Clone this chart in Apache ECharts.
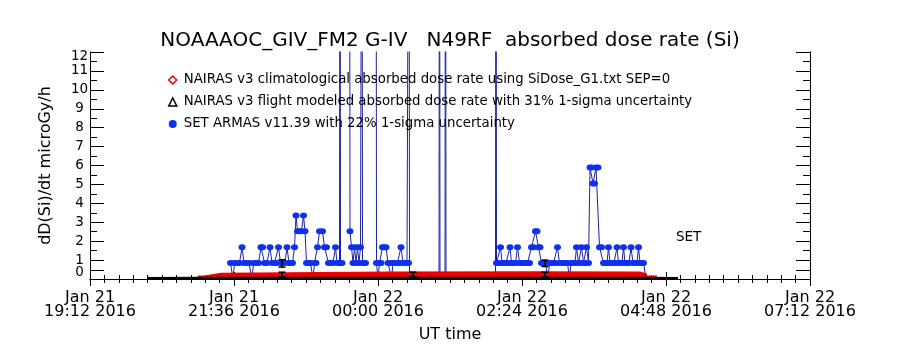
<!DOCTYPE html>
<html><head><meta charset="utf-8">
<script src="https://cdn.jsdelivr.net/npm/echarts@6/dist/echarts.min.js"></script>
<style>html,body{margin:0;padding:0;background:#fff}#c{width:900px;height:350px}</style>
</head><body><div id="c"></div>
<script>
const FONT = 'DejaVu Sans';

// x values: minutes after 2016-01-21 00:00 UT
const xTickLabels = ['Jan 21\n19:12 2016', 'Jan 21\n21:36 2016', 'Jan 22\n00:00 2016',
                     'Jan 22\n02:24 2016', 'Jan 22\n04:48 2016', 'Jan 22\n07:12 2016'];
const yMajorTicks = [0.45, 1, 2, 3, 4, 5, 6, 7, 8, 9, 10, 11, 12];
const yMinorTicks = [1.5, 2.5, 3.5, 4.5, 5.5, 6.5, 7.5, 8.5, 9.5, 10.5, 11.5];
const yLabelValues = [1, 2, 3, 4, 5, 6, 7, 8, 9, 10, 11, 11.74];
const yLabelTexts = ['1', '2', '3', '4', '5', '6', '7', '8', '9', '10', '11', '12'];
const yZeroLabelValues = [0.37];
const yZeroLabelTexts = ['0'];

const climName = 'NAIRAS v3 climatological absorbed dose rate using SiDose_G1.txt SEP=0';
const flightName = 'NAIRAS v3 flight modeled absorbed dose rate with 31% 1-sigma uncertainty';
const armasName = 'SET ARMAS v11.39 with 22% 1-sigma uncertainty';

const climTime = [1260, 1267, 1275, 1283, 1450, 1600, 1702, 1709, 1719];
const climDose = [0.18, 0.27, 0.33, 0.40, 0.41, 0.39, 0.29, 0.18, 0.18];

const flightTime = [1210, 1260, 1450, 1700, 1740];
const flightDose = [0.11, 0.12, 0.12, 0.12, 0.11];

const armasTime = [
 1292.5,1295,1296.5,1299,1301.5,1304,1306,1308.5,1311,1314,1315.5,1318,1320.5,1323,1324.5,1326.5,1329,
 1332,1334,1336.5,1338.5,1340.5,1342.5,1344.5,1347,1349,1351,1353,1354.5,1356.5,1358,1359.5,1361.5,
 1363.5,1365.5,1367,1368.5,1370.5,1372.5,1375,1376.5,1378,1379.5,1381.5,1384.5,1386.5,1388.5,1390.5,
 1392.5,1395,1397.5,1399,1401.5,1402,1402.5,1404,1407,
 1411.5,1412,1413.5,1415,1416.5,1418,1419.5,1421,1422.5,1424,1424.5,1426,1427.5,1432,
 1438,1438.5,1440,1441.5,1443,1444.5,1446,1448,1450,1452,1453.5,1455,1457,1459.5,1461.5,1463,1465,1467,1469,
 1470.5,1471,1471.5,1501,1501.5,1502,1507,1507.5,1508,1557.5,1558,
 1558.5,1560.5,1562.5,1564,1566,1568,1570,1572,1573.5,1575.5,1577.5,1579.5,1581.5,1583.5,1585.5,1587.5,
 1589.5,1591.5,1593.5,1595.5,1597.5,1599,1600.5,1602,1603.5,1605.5,1607.5,1610,1611.5,1613.5,1615.5,
 1617.5,1619.5,1621.5,1623.5,1625.5,1627.5,1629.5,1631.5,1633,1635,1637,1638.5,1640.5,1642,1643.5,
 1645.5,1647,1648.5,1650.5,1652,1653.5,1655,1656.5,1658,1660,1661.5,1663.5,1665.5,1667.5,1669,1670.5,
 1672,1674,1676,1677.5,1679,1680.5,1682,1684,1685.5,1687,1689,1691,1693,1695,1697,1699,1700.5,1702,
 1704,1705.5,1708
];
const armasDose = [
 0.85,0,0.85,0.85,0.85,1.68,0.85,0.85,0.85,0,0.85,0.85,0.85,1.68,1.68,0.85,0.85,
 1.68,0.85,0.85,0.85,1.68,0.85,0.85,0.85,1.68,0.85,0.85,0.85,1.68,3.36,2.52,2.52,
 2.52,3.36,2.52,0.85,0.85,0.85,0,0.85,0.85,1.68,2.52,2.52,1.68,1.68,0.85,
 0.85,0.85,1.68,0.85,0.85,30,0.85,0.85,null,
 30,2.52,1.68,0.85,1.68,0.85,1.68,0.85,1.68,30,0.85,0.85,0.85,null,
 30,0.85,0,0.85,0.85,1.68,1.68,1.68,0.85,0.85,0,0.85,0.85,0.85,0.85,1.68,0.85,0.85,0.85,
 0.85,30,0,0,30,0,0,30,0,0,30,
 0.85,0.85,1.68,0.85,0.85,0.85,0.85,1.68,0.85,0.85,0.85,1.68,0.85,0.85,0.85,0.85,
 0.85,0.85,1.68,1.68,2.52,2.52,1.68,1.68,0.85,0.85,0.85,0,0.85,0.85,0.85,
 0.85,1.68,0.85,0.85,0.85,0.85,0.85,0,0.85,0.85,0.85,1.68,0.85,0.85,1.68,0.85,
 0.85,1.68,0.85,5.9,5.9,5.05,5.05,5.9,5.9,1.68,1.68,0.85,0.85,0.85,1.68,
 0.85,0.85,0.85,0.85,1.68,0.85,0.85,0.85,1.68,0.85,0.85,0.85,1.68,0.85,0.85,0.85,1.68,0.85,
 0.85,0.85,0
];

const errTime = [1344, 1344, 1475, 1607, 1607];
const errLow  = [0.63, 0.12, 0.13, 0.66, 0.12];
const errHigh = [1.02, 0.36, 0.36, 1.00, 0.36];

const chart = echarts.init(document.getElementById('c'), null, {renderer: 'canvas'});

const armasData = armasTime.map((t, i) => {
  const v = armasDose[i];
  if (v === null) return [t, '-'];
  if (v === 0 || v > 12) return {value: [t, v], symbol: 'none'};
  return [t, v];
});

const labelFor = (vals, texts) => v => {
  let best = -1, bd = 1e9;
  vals.forEach((c, i) => { const d = Math.abs(c - v); if (d < bd) { bd = d; best = i; } });
  return bd < 0.05 ? texts[best] : '';
};

const axisLine = {show: true, lineStyle: {color: '#000', width: 1}};
const xCommon = {
  type: 'value', min: 1152, max: 1872, interval: 144,
  axisLine: axisLine, splitLine: {show: false},
  axisTick: {show: true, inside: true, length: 7, lineStyle: {color: '#000'}},
  minorTick: {show: true, splitNumber: 10, length: 4, lineStyle: {color: '#000'}},
  minorSplitLine: {show: false}
};
const yCommon = {type: 'value', min: 0, max: 12, axisLine: axisLine, splitLine: {show: false}};
const yLabelStyle = {fontFamily: FONT, fontSize: 13.5, color: '#000', margin: 10.5, align: 'center',
                     hideOverlap: false, showMinLabel: true, showMaxLabel: true};

chart.setOption({
  animation: false,
  backgroundColor: '#fff',
  title: {
    text: 'NOAAAOC_GIV_FM2 G-IV   N49RF  absorbed dose rate (Si)',
    left: 'center', top: 26,
    textStyle: {fontFamily: FONT, fontSize: 20, fontWeight: 'normal', color: '#000'}
  },
  legend: {
    orient: 'vertical', left: 163, top: 68, itemGap: 8, itemWidth: 8, itemHeight: 8,
    selectedMode: false,
    textStyle: {fontFamily: FONT, fontSize: 13.3, color: '#000', lineHeight: 14, padding: [0, 0, 0, 2]},
    data: [
      {name: climName, icon: 'diamond', itemStyle: {color: '#fff', borderColor: '#e00000', borderWidth: 1.5}},
      {name: flightName, icon: 'triangle', itemStyle: {color: '#fff', borderColor: '#000', borderWidth: 1.5}},
      {name: armasName, icon: 'circle', itemStyle: {color: '#1030f0'}}
    ]
  },
  grid: {left: 90, right: 90, top: 52, bottom: 71, containLabel: false},
  xAxis: [
    Object.assign({}, xCommon, {
      position: 'bottom',
      axisLabel: {
        show: true, showMinLabel: true, showMaxLabel: true, margin: 12, hideOverlap: false,
        fontFamily: FONT, fontSize: 16, lineHeight: 14, color: '#000', align: 'center',
        formatter: v => xTickLabels[Math.round((v - 1152) / 144)] || ''
      },
      name: 'UT time', nameLocation: 'middle', nameGap: 48,
      nameTextStyle: {fontFamily: FONT, fontSize: 16, color: '#000'}
    }),
    Object.assign({}, xCommon, {position: 'top', axisLabel: {show: false}})
  ],
  yAxis: [
    Object.assign({}, yCommon, {
      position: 'left',
      axisTick: {show: true, inside: true, length: 14, customValues: yMajorTicks, lineStyle: {color: '#000'}},
      axisLabel: Object.assign({show: true, customValues: yLabelValues,
                                formatter: labelFor(yLabelValues, yLabelTexts)}, yLabelStyle),
      name: 'dD(Si)/dt microGy/h', nameLocation: 'middle', nameGap: 36, nameRotate: 90,
      nameTextStyle: {fontFamily: FONT, fontSize: 16, color: '#000'}
    }),
    Object.assign({}, yCommon, {
      position: 'left',
      axisLabel: Object.assign({show: true, customValues: yZeroLabelValues,
                                formatter: labelFor(yZeroLabelValues, yZeroLabelTexts)}, yLabelStyle),
      axisTick: {show: true, inside: true, length: 7, customValues: yMinorTicks, lineStyle: {color: '#000'}}
    }),
    Object.assign({}, yCommon, {
      position: 'right', axisLabel: {show: false},
      axisTick: {show: true, inside: true, length: 14, customValues: yMajorTicks, lineStyle: {color: '#000'}}
    }),
    Object.assign({}, yCommon, {
      position: 'right', axisLabel: {show: false},
      axisTick: {show: true, inside: true, length: 7, customValues: yMinorTicks, lineStyle: {color: '#000'}}
    })
  ],
  graphic: [{
    type: 'text', left: 676, top: 230,
    style: {text: 'SET', font: '13.5px "DejaVu Sans"', fill: '#000'}
  }],
  series: [
    {
      name: armasName, type: 'line', xAxisIndex: 0, yAxisIndex: 0, z: 2,
      data: armasData, connectNulls: false,
      symbol: 'circle', symbolSize: [7, 6], showSymbol: true, showAllSymbol: true, clip: true,
      itemStyle: {color: '#1030f0'},
      lineStyle: {color: '#1a22a8', width: 1}
    },
    {
      name: climName, type: 'line', step: 'end', z: 3,
      data: climTime.map((t, i) => [t, climDose[i]]),
      symbol: 'none', lineStyle: {width: 0, color: '#e00000'},
      itemStyle: {color: '#e00000'},
      areaStyle: {color: '#ee0000', opacity: 1, origin: 'start'}
    },
    {
      name: flightName, type: 'line', z: 4,
      data: flightTime.map((t, i) => [t, flightDose[i]]),
      symbol: 'none', lineStyle: {width: 0, color: '#000'},
      itemStyle: {color: '#000'},
      areaStyle: {color: '#000', opacity: 1, origin: 'start'}
    },
    {
      name: 'errors', type: 'custom', z: 5,
      data: errTime.map((t, i) => [t, errLow[i], errHigh[i]]),
      encode: {x: 0, y: [1, 2]},
      renderItem: (params, api) => {
        const x = api.value(0), lo = api.value(1), hi = api.value(2);
        const p1 = api.coord([x, lo]), p2 = api.coord([x, hi]);
        const w = 3.5, st = {stroke: '#000', lineWidth: 1.5};
        return {type: 'group', children: [
          {type: 'line', shape: {x1: p1[0], y1: p1[1], x2: p2[0], y2: p2[1]}, style: st},
          {type: 'line', shape: {x1: p1[0] - w, y1: p1[1], x2: p1[0] + w, y2: p1[1]}, style: st},
          {type: 'line', shape: {x1: p2[0] - w, y1: p2[1], x2: p2[0] + w, y2: p2[1]}, style: st}
        ]};
      }
    }
  ]
});
</script></body></html>
